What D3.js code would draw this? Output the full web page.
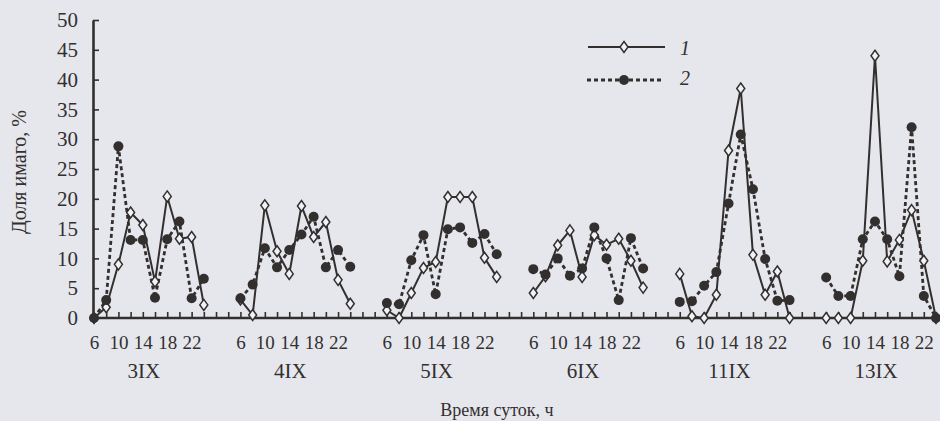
<!DOCTYPE html>
<html><head><meta charset="utf-8">
<script src="https://cdn.jsdelivr.net/npm/d3@7"></script>
<style>
html,body{margin:0;padding:0;background:#e5e7ed;}
svg{display:block;}
text{font-family:"Liberation Serif","DejaVu Serif",serif;fill:#332f2f;}
</style></head>
<body>
<svg id="c" width="940" height="421"></svg>
<script>
// ---- data ----
const days = ["3IX", "4IX", "5IX", "6IX", "11IX", "13IX"];
const hours = [6, 8, 10, 12, 14, 16, 18, 20, 22, 24];
const hourLabels = [6, 10, 14, 18, 22];
const yTicks = [0, 5, 10, 15, 20, 25, 30, 35, 40, 45, 50];
// series 1 (solid, open diamonds), one row per day, values at hours 6..24
const series1 = [
  [0, 1.8, 9.0, 17.7, 15.6, 6.1, 20.4, 13.3, 13.6, 2.2],
  [3.1, 0.5, 18.9, 11.2, 7.4, 18.8, 13.6, 16.1, 6.4, 2.4],
  [1.3, 0, 4.2, 8.4, 9.4, 20.3, 20.3, 20.3, 10.1, 6.9],
  [4.2, 7.0, 12.2, 14.7, 6.9, 13.9, 12.3, 13.3, 9.6, 5.1],
  [7.4, 0.3, 0, 3.9, 28.1, 38.5, 10.6, 3.9, 7.8, 0],
  [0, 0, 0, 9.6, 44.0, 9.5, 13.1, 18.1, 9.6, 0]
];
// series 2 (dashed, filled circles)
const series2 = [
  [0, 3.0, 28.8, 13.1, 13.1, 3.4, 13.2, 16.2, 3.3, 6.6],
  [3.3, 5.6, 11.7, 8.5, 11.4, 14.0, 17.0, 8.5, 11.4, 8.6],
  [2.5, 2.3, 9.7, 13.9, 4.0, 14.9, 15.2, 12.6, 14.1, 10.7],
  [8.2, 7.3, 10.0, 7.1, 8.3, 15.2, 10.0, 3.0, 13.4, 8.3],
  [2.7, 2.8, 5.4, 7.7, 19.2, 30.8, 21.6, 9.9, 2.9, 3.0],
  [6.8, 3.7, 3.7, 13.2, 16.2, 13.2, 7.0, 32.0, 3.7, 0]
];
const legendLabels = ["1", "2"];
const xTitle = "Время суток, ч";
const yTitle = "Доля имаго, %";

// ---- drawing ----
const ink = "#332f2f";
const svg = d3.select("#c");
const tpos = (d, h) => d * 24 + (h - 6);           // hours since first 6h
const x = d3.scaleLinear().domain([0, tpos(days.length - 1, 24)]).range([94, 936]);
const y = d3.scaleLinear().domain([0, 50]).range([318, 20]);

// minor ticks every 2 h across the whole axis
const allTicks = d3.range(2, tpos(days.length - 1, 24) + 1, 2);
const gx = svg.append("g").attr("transform", `translate(0,${y(0)})`)
  .call(d3.axisBottom(x).tickValues(allTicks).tickSizeInner(-6).tickSizeOuter(0).tickFormat(""));
gx.select(".domain").remove();
gx.selectAll("line").attr("stroke", ink).attr("stroke-width", 1.6);
svg.append("line").attr("x1", x(0) - 1).attr("x2", 940).attr("y1", y(0)).attr("y2", y(0))
  .attr("stroke", ink).attr("stroke-width", 2.6);

// hour labels
const labelTicks = [];
days.forEach((d, i) => hourLabels.forEach(h => labelTicks.push(tpos(i, h))));
const gl = svg.append("g").attr("transform", `translate(0,${y(0)})`)
  .call(d3.axisBottom(x).tickValues(labelTicks).tickSize(0).tickPadding(31)
    .tickFormat(v => String(((v % 24) + 6))));
gl.select(".domain").remove();
gl.selectAll("text").attr("font-size", 19).attr("fill", ink)
  .attr("font-family", "Liberation Serif, serif").attr("dy", "0");

// day labels
svg.append("g").selectAll("text").data(days).join("text")
  .attr("x", (d, i) => x(tpos(i, 14)) + 1).attr("y", 378)
  .attr("text-anchor", "middle").attr("font-size", 21).text(d => d);

// y axis
const gy = svg.append("g").attr("transform", `translate(${x(0) - 1},0)`)
  .call(d3.axisLeft(y).tickValues(yTicks).tickSizeInner(-6).tickSizeOuter(0).tickPadding(15));
gy.select(".domain").attr("stroke", ink).attr("stroke-width", 2.6);
gy.selectAll("line").attr("stroke", ink).attr("stroke-width", 1.6);
gy.selectAll("text").attr("font-size", 21).attr("fill", ink)
  .attr("font-family", "Liberation Serif, serif");

// titles
svg.append("text").attr("x", 497).attr("y", 416).attr("text-anchor", "middle")
  .attr("font-size", 18).text(xTitle);
svg.append("text").attr("transform", "translate(26,172) rotate(-90)")
  .attr("text-anchor", "middle").attr("font-size", 20).text(yTitle);

// lines
const line = d3.line().x(d => x(d.t)).y(d => y(d.v));
const toPts = (arr, i) => arr.map((v, k) => ({ t: tpos(i, hours[k]), v }));

const g2 = svg.append("g");
series2.forEach((arr, i) => g2.append("path").datum(toPts(arr, i)).attr("d", line)
  .attr("fill", "none").attr("stroke", ink).attr("stroke-width", 2.8).attr("stroke-dasharray", "4,3"));
const g1 = svg.append("g");
series1.forEach((arr, i) => g1.append("path").datum(toPts(arr, i)).attr("d", line)
  .attr("fill", "none").attr("stroke", ink).attr("stroke-width", 2));

const diamond = "M0,-5.5L4,0L0,5.5L-4,0Z";
series1.forEach((arr, i) => svg.append("g").selectAll("path").data(toPts(arr, i)).join("path")
  .attr("d", diamond).attr("transform", d => `translate(${x(d.t)},${y(d.v)})`)
  .attr("fill", "#f1f2f6").attr("stroke", ink).attr("stroke-width", 1.5));
series2.forEach((arr, i) => svg.append("g").selectAll("circle").data(toPts(arr, i)).join("circle")
  .attr("cx", d => x(d.t)).attr("cy", d => y(d.v)).attr("r", 5).attr("fill", ink));

// legend
const lg = svg.append("g");
lg.append("line").attr("x1", 588).attr("x2", 665).attr("y1", 47).attr("y2", 47)
  .attr("stroke", ink).attr("stroke-width", 2);
lg.append("path").attr("d", diamond).attr("transform", "translate(624,47)")
  .attr("fill", "#f1f2f6").attr("stroke", ink).attr("stroke-width", 1.5);
lg.append("line").attr("x1", 587).attr("x2", 663).attr("y1", 80).attr("y2", 80)
  .attr("stroke", ink).attr("stroke-width", 2.8).attr("stroke-dasharray", "4,3");
lg.append("circle").attr("cx", 624).attr("cy", 80).attr("r", 5).attr("fill", ink);
lg.selectAll("text.lab").data(legendLabels).join("text").attr("class", "lab")
  .attr("x", 680).attr("y", (d, i) => i === 0 ? 55 : 85)
  .attr("font-size", 20).attr("font-style", "italic").text(d => d);
</script>
</body></html>
